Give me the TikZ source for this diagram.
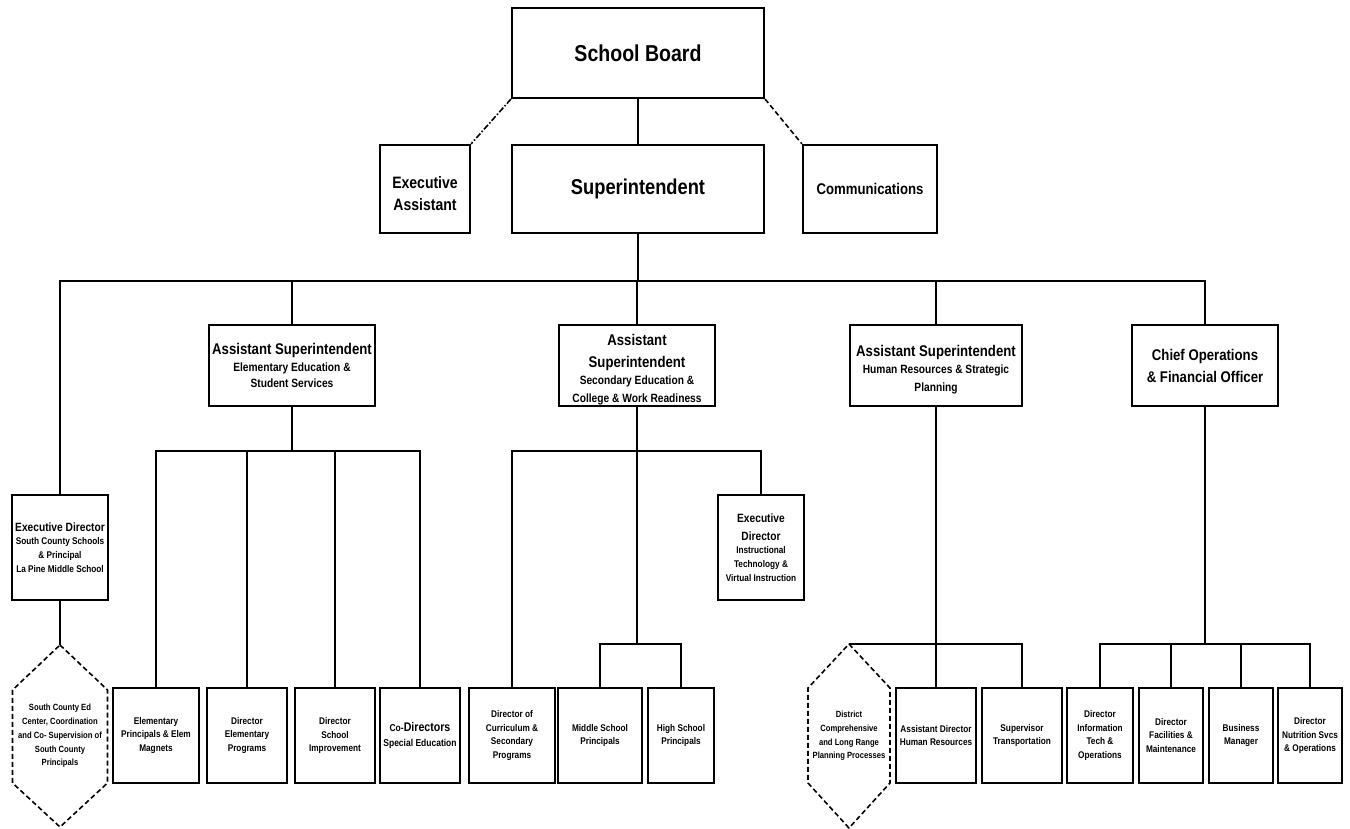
\documentclass[tikz,border=0pt]{standalone}
\usepackage{fontspec}
\setmainfont{Liberation Sans}[FakeStretch=0.85]
\usepackage{tikz}
\newcommand\setfs[2]{\fontsize{#1}{#2}\selectfont}
\newcommand\bigf{\setfs{15.5}{20}}
\newcommand\midf{\setfs{12}{16.5}}
\newcommand\tinyf{\setfs{9.7}{13.7}}
\tikzset{
	box/.style 2 args={draw,line width=2.2pt,minimum width=#1,minimum height=#2,inner sep=0pt,align=center,font=\bfseries\tinyf},
	link/.style={line width=2.2pt},
	hexbox/.style={inner sep=0pt,align=center,font=\bfseries\setfs{9}{13.7}},
	hexline/.style={line width=1.6pt,dash pattern=on 5pt off 3pt}
}

\begin{document}
\begin{tikzpicture}[x=1pt,y=-1pt]
	\path[use as bounding box] (0,0) rectangle (1350,829);

	\node [box={252pt}{90pt},font=\bfseries\setfs{23}{28}] (board) at (638,53) {School Board};
	\node [box={90pt}{88pt},font=\bfseries\setfs{16.5}{22}] (exa) at (425,189) {\rule{0pt}{21pt}Executive\\Assistant};
	\node [box={252pt}{88pt},font=\bfseries\setfs{21.5}{26}] (supt) at (638,189) {Superintendent};
	\node [box={134pt}{88pt},font=\bfseries\bigf] (comm) at (870,189) {Communications};

	\node [box={166pt}{81pt},font=\bfseries\midf] (ase) at (292,365.5) {\bigf Assistant Superintendent\\Elementary Education \&\\Student Services};
	\node [box={156pt}{81pt},font=\bfseries\midf] (ass) at (637,365.5) {\bigf\rule{0pt}{19.5pt}Assistant\\[5pt]\bigf Superintendent\\[1pt]Secondary Education \&\\[1pt]College \& Work Readiness};
	\node [box={172pt}{81pt},font=\bfseries\midf] (ahr) at (936,365.5) {\bigf\rule{0pt}{19.5pt}Assistant Superintendent\\[1pt]Human Resources \& Strategic\\[1pt]Planning};
	\node [box={146pt}{81pt},font=\bfseries\setfs{15.5}{22}] (cfo) at (1205,365.5) {Chief Operations\\\& Financial Officer};

	\node [box={96pt}{105pt}] (exds) at (60,547.5) {\midf Executive Director\\South County Schools\\\& Principal\\La Pine Middle School};
	\node [box={86pt}{105pt}] (exit) at (761,547.5) {\midf Executive\\[4pt]\midf Director\\Instructional\\Technology \&\\Virtual Instruction};

	\node [hexbox] (hexa) at (60,736) {South County Ed\\Center, Coordination\\and Co- Supervision of\\South County\\Principals};
	\node [box={86pt}{95pt}] (elp) at (156,735.5) {Elementary\\Principals \& Elem\\Magnets};
	\node [box={80pt}{95pt}] (dep) at (247,735.5) {Director\\Elementary\\Programs};
	\node [box={80pt}{95pt}] (dsi) at (335,735.5) {Director\\School\\Improvement};
	\node [box={80pt}{95pt},font=\bfseries\setfs{10}{15}] (cod) at (420,735.5) {Co-{\setfs{12.5}{15}Directors}\\Special Education};
	\node [box={86pt}{95pt}] (dcs) at (512,735.5) {Director of\\Curriculum \&\\Secondary\\Programs};
	\node [box={84pt}{95pt}] (msp) at (600,735.5) {Middle School\\Principals};
	\node [box={66pt}{95pt}] (hsp) at (681,735.5) {High School\\Principals};

	\node [hexbox] (hexb) at (849,736) {District\\Comprehensive\\and Long Range\\Planning Processes};
	\node [box={80pt}{95pt}] (adhr) at (936,735.5) {Assistant Director\\Human Resources};
	\node [box={80pt}{95pt}] (stp) at (1022,735.5) {Supervisor\\Transportation};
	\node [box={66pt}{95pt}] (dit) at (1100,735.5) {Director\\Information\\Tech \&\\Operations};
	\node [box={64pt}{95pt}] (dfm) at (1171,735.5) {Director\\Facilities \&\\Maintenance};
	\node [box={64pt}{95pt}] (bmg) at (1241,735.5) {Business\\Manager};
	\node [box={64pt}{95pt}] (dns) at (1310,735.5) {Director\\Nutrition Svcs\\\& Operations};

	\draw [hexline] (hexa.center) +(0,-91) coordinate (hexa-n) -- +(47.5,-46) -- +(47.5,47) -- +(0,91) -- +(-47.5,47) -- +(-47.5,-46) -- cycle;
	\draw [hexline] (hexb.center) +(0,-92) coordinate (hexb-n) -- +(41,-48) -- +(41,47) -- +(0,92) -- +(-41,47) -- +(-41,-48) -- cycle;

	\coordinate (bus) at (0,281);
	\coordinate (bus2) at (0,451);
	\coordinate (bus3) at (0,644);

	\draw [link] (board) -- (supt);
	\draw [line width=1.6pt,dash pattern=on 6pt off 2pt on 1.5pt off 2pt] (board.south west) -- (exa.north east);
	\draw [line width=1.6pt,dash pattern=on 5pt off 3pt] (board.south east) -- (comm.north west);

	\draw [link] (supt.south) -- (supt.south |- bus);
	\draw [link] (exds.north) |- (cfo.north |- bus) -- (cfo.north);
	\draw [link] (ase.north) -- (ase.north |- bus);
	\draw [link] (ass.north) -- (ass.north |- bus);
	\draw [link] (ahr.north) -- (ahr.north |- bus);

	\draw [link] (exds.south) -- (hexa-n);
	\draw [link] (ase.south) -- (ase.south |- bus2);
	\draw [link] (elp.north) |- (cod.north |- bus2) -- (cod.north);
	\draw [link] (dep.north) -- (dep.north |- bus2);
	\draw [link] (dsi.north) -- (dsi.north |- bus2);

	\draw [link] (ass.south) -- (ass.south |- bus3);
	\draw [link] (dcs.north) |- (exit.north |- bus2) -- (exit.north);
	\draw [link] (msp.north) |- (hsp.north |- bus3) -- (hsp.north);

	\draw [link] (ahr.south) -- (adhr.north);
	\draw [link] (hexb-n) -| (stp.north);

	\draw [link] (cfo.south) -- (cfo.south |- bus3);
	\draw [link] (dit.north) |- (dns.north |- bus3) -- (dns.north);
	\draw [link] (dfm.north) -- (dfm.north |- bus3);
	\draw [link] (bmg.north) -- (bmg.north |- bus3);
\end{tikzpicture}
\end{document}
